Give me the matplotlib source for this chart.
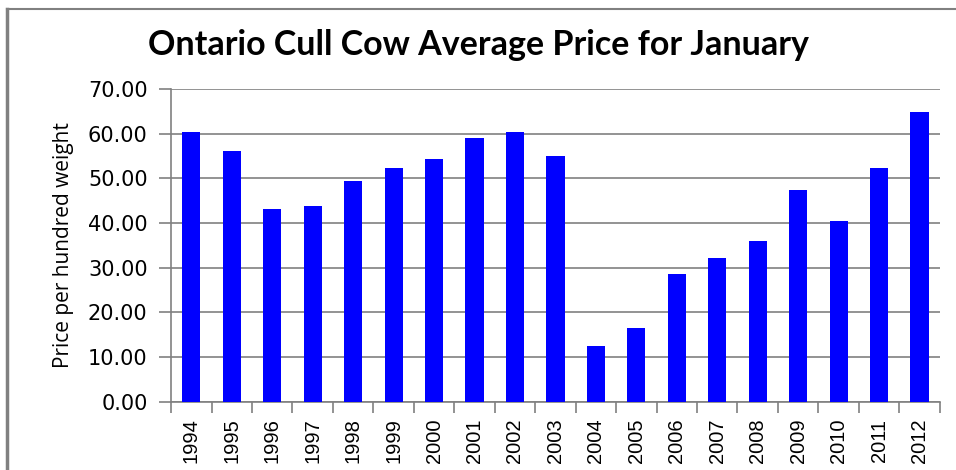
import matplotlib
matplotlib.use("Agg")
from matplotlib import pyplot as plt
from matplotlib.lines import Line2D
import numpy as np

years = [str(y) for y in range(1994, 2013)]
prices = [60.4, 56.2, 43.2, 43.7, 49.5, 52.4, 54.4, 58.9, 60.4, 54.9,
          12.4, 16.6, 28.5, 32.1, 35.9, 47.3, 40.4, 52.2, 64.9]
y_ticks = [0, 10, 20, 30, 40, 50, 60, 70]

grey = "#808080"

fig = plt.figure(figsize=(9.56, 4.70), dpi=100)
ax = fig.add_axes([0.179, 0.145, 0.804, 0.666])

x = np.arange(len(years))
ax.bar(x, prices, width=0.45, color="#0000ff", zorder=3)

ax.set_xlim(-0.5, len(years) - 0.5)
ax.set_ylim(0, 70)
ax.set_yticks(y_ticks)
ax.set_yticklabels(["%.2f" % v for v in y_ticks], fontsize=15, family="DejaVu Sans")
ax.yaxis.grid(True, color=grey, linewidth=1.2, zorder=0)
ax.tick_params(axis="y", length=9, color=grey, width=1.2, pad=8)

ax.set_xticks(x)
ax.set_xticklabels(years, rotation=90, fontsize=14.5, family="Liberation Sans")
ax.tick_params(axis="x", which="major", length=0, pad=12)
ax.set_xticks(np.arange(-0.5, len(years)), minor=True)
ax.tick_params(axis="x", which="minor", length=8, color=grey, width=1.2)

for side in ["top", "right"]:
    ax.spines[side].set_visible(False)
for side in ["left", "bottom"]:
    ax.spines[side].set_color(grey)
    ax.spines[side].set_linewidth(1.2)

ax.set_ylabel("Price per hundred weight", fontsize=15, family="Open Sans")
ax.yaxis.set_label_coords(-0.126, 0.5)

fig.text(0.5, 0.904, "Ontario Cull Cow Average Price for January",
         ha="center", va="center", fontsize=24.5, fontweight="bold", family="Lato")

# outer chart border (top and left only visible)
fig.add_artist(Line2D([0.0073, 1.0], [1 - 9 / 470, 1 - 9 / 470],
                      transform=fig.transFigure, color=grey, linewidth=1.5))
fig.add_artist(Line2D([0.0073, 0.0073], [0.0, 1 - 9 / 470],
                      transform=fig.transFigure, color=grey, linewidth=2.5))

fig.savefig("out.png", dpi=100)
